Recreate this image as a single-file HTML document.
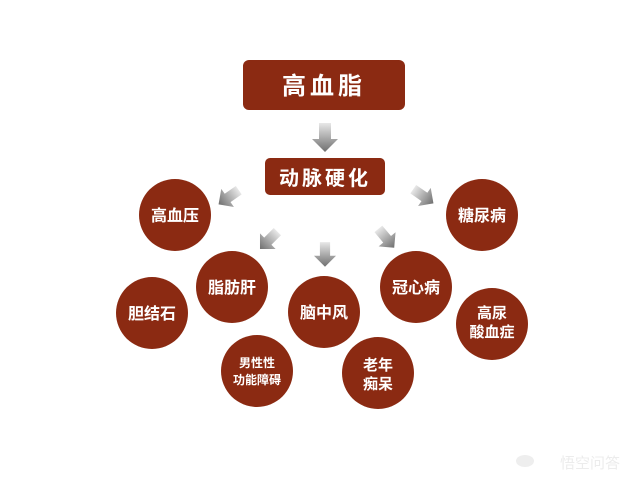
<!DOCTYPE html>
<html><head><meta charset="utf-8"><style>
html,body{margin:0;padding:0;background:#fff;}
svg{display:block;}
text{font-family:"Liberation Sans","Noto Sans CJK SC","WenQuanYi Zen Hei",sans-serif;font-weight:bold;fill:#fff;text-anchor:middle;}
</style></head><body>
<svg width="640" height="480" viewBox="0 0 640 480" xmlns="http://www.w3.org/2000/svg">
<defs>
<linearGradient id="g" x1="0" y1="0" x2="1" y2="0">
<stop offset="0" stop-color="#e8e8e8"/><stop offset="1" stop-color="#6f6f6f"/>
</linearGradient>
<g id="ar"><polygon points="-14,-6 2,-6 2,-13 15,0 2,13 2,6 -14,6" fill="url(#g)"/></g>
</defs>
<rect x="243" y="60" width="162" height="50" rx="6" fill="#8b2a12"/>
<text x="324" y="94" font-size="24" letter-spacing="4">高血脂</text>
<use href="#ar" transform="translate(325,137) rotate(90)"/>
<rect x="265" y="158" width="120" height="37" rx="5" fill="#8b2a12"/>
<text x="325" y="185" font-size="20" letter-spacing="3">动脉硬化</text>
<use href="#ar" transform="translate(229,197) rotate(145) scale(0.85)"/>
<use href="#ar" transform="translate(423,196) rotate(35) scale(0.85)"/>
<use href="#ar" transform="translate(269,240) rotate(135) scale(0.85)"/>
<use href="#ar" transform="translate(325,254) rotate(90) scale(0.85)"/>
<use href="#ar" transform="translate(386,238) rotate(50) scale(0.85)"/>
<g fill="#8b2a12">
<circle cx="175" cy="215" r="36"/>
<circle cx="482" cy="215" r="36"/>
<circle cx="232" cy="287" r="36"/>
<circle cx="152" cy="313" r="36"/>
<circle cx="324" cy="312" r="36"/>
<circle cx="416" cy="287" r="36"/>
<circle cx="492" cy="324" r="36"/>
<circle cx="257" cy="371" r="36"/>
<circle cx="378" cy="373" r="36"/>
</g>
<text x="175" y="221" font-size="16">高血压</text>
<text x="482" y="221" font-size="16">糖尿病</text>
<text x="232" y="293" font-size="16">脂肪肝</text>
<text x="152" y="319" font-size="16">胆结石</text>
<text x="324" y="318" font-size="16">脑中风</text>
<text x="416" y="293" font-size="16">冠心病</text>
<text x="492" y="318" font-size="15">高尿</text>
<text x="492" y="337" font-size="15">酸血症</text>
<text x="257" y="367" font-size="12">男性性</text>
<text x="257" y="384" font-size="12">功能障碍</text>
<text x="378" y="370" font-size="15">老年</text>
<text x="378" y="389" font-size="15">痴呆</text>
<text x="590" y="468" font-size="15" style="fill:#ececec;font-weight:normal">悟空问答</text>
<ellipse cx="525" cy="461" rx="9" ry="6" fill="#eeeeee"/>
</svg>
</body></html>
